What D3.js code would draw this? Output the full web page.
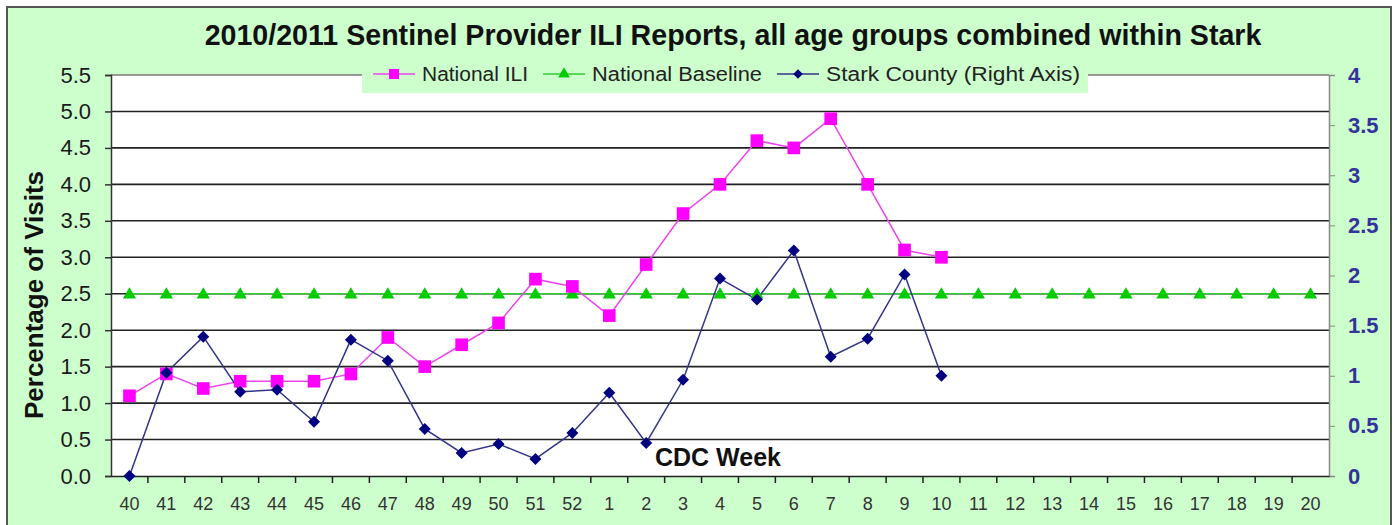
<!DOCTYPE html>
<html>
<head>
<meta charset="utf-8">
<script src="https://cdn.jsdelivr.net/npm/d3@7"></script>
<style>
  body { margin: 0; background: #fff; }
  text { font-family: "Liberation Sans", Arial, sans-serif; }
</style>
</head>
<body>
<div id="chart"></div>
<script>
// CDC weeks
const weeks = ["40","41","42","43","44","45","46","47","48","49","50","51","52",
  "1","2","3","4","5","6","7","8","9","10","11","12","13","14","15","16","17","18","19","20"];

// National ILI (left axis), weeks 40..10
const nationalILI = [1.1, 1.4, 1.2, 1.3, 1.3, 1.3, 1.4, 1.9, 1.5, 1.8, 2.1, 2.7, 2.6,
  2.2, 2.9, 3.6, 4.0, 4.6, 4.5, 4.9, 4.0, 3.1, 3.0];

// National baseline (left axis), all weeks
const nationalBaseline = [2.5, 2.5, 2.5, 2.5, 2.5, 2.5, 2.5, 2.5, 2.5, 2.5, 2.5, 2.5, 2.5,
  2.5, 2.5, 2.5, 2.5, 2.5, 2.5, 2.5, 2.5, 2.5, 2.5, 2.5, 2.5, 2.5, 2.5, 2.5, 2.5, 2.5, 2.5, 2.5, 2.5];

// Stark County (right axis), weeks 40..10
const starkCounty = [0, 1.03, 1.39, 0.84, 0.86, 0.54, 1.36, 1.15, 0.47, 0.23, 0.32, 0.17, 0.43,
  0.83, 0.33, 0.96, 1.97, 1.76, 2.25, 1.19, 1.37, 2.01, 1.0];

const leftTicks = [0, 0.5, 1, 1.5, 2, 2.5, 3, 3.5, 4, 4.5, 5, 5.5];
const rightTicks = [0, 0.5, 1, 1.5, 2, 2.5, 3, 3.5, 4];

const W = 1397, H = 525;
const margin = { top: 75, right: 68, bottom: 49, left: 111 },
    width = W - margin.left - margin.right,
    height = H - margin.top - margin.bottom;

const svg = d3.select("#chart")
  .append("svg")
    .attr("width", W)
    .attr("height", H);

// chart background + border
svg.append("rect")
  .attr("x", 7).attr("y", 7)
  .attr("width", 1384).attr("height", 530)
  .attr("fill", "#ccffcc")
  .attr("stroke", "#555")
  .attr("stroke-width", 2);

// title
svg.append("text")
  .attr("x", 733).attr("y", 45)
  .attr("text-anchor", "middle")
  .style("font-size", "28.6px")
  .style("font-weight", "bold")
  .attr("fill", "#111")
  .text("2010/2011 Sentinel Provider ILI Reports, all age groups combined within Stark");

const g = svg.append("g")
    .attr("transform", `translate(${margin.left},${margin.top})`);

// plot area
g.append("rect")
  .attr("width", width).attr("height", height)
  .attr("fill", "#fff");

const x = d3.scaleBand()
  .domain(weeks)
  .range([0, width]);

const y = d3.scaleLinear()
  .domain([0, 5.5])
  .range([height, 0]);

const y2 = d3.scaleLinear()
  .domain([0, 4])
  .range([height, 0]);

// gridlines
g.append("g")
  .selectAll("line")
  .data(leftTicks.filter(d => d > 0))
  .join("line")
    .attr("x1", 0).attr("x2", width)
    .attr("y1", d => y(d)).attr("y2", d => y(d))
    .attr("stroke", d => d === 5.5 ? "#777" : "#222")
    .attr("stroke-width", d => d === 5.5 ? 1.5 : 1.6);

// left axis
const yAxis = g.append("g")
  .call(d3.axisLeft(y).tickValues(leftTicks).tickFormat(d3.format(".1f")).tickSize(6).tickPadding(14));
yAxis.select(".domain").attr("stroke", "#333").attr("stroke-width", 1.5);
yAxis.selectAll(".tick line").attr("stroke", "#333").attr("stroke-width", 1.5);
yAxis.selectAll("text")
  .style("font-size", "22px")
  .attr("fill", "#1a1a1a");

// right axis
const y2Axis = g.append("g")
  .attr("transform", `translate(${width},0)`)
  .call(d3.axisRight(y2).tickValues(rightTicks).tickFormat(d => d).tickSize(6).tickPadding(13));
y2Axis.select(".domain").attr("stroke", "#888").attr("stroke-width", 1.5);
y2Axis.selectAll(".tick line").attr("stroke", "#888");
y2Axis.selectAll("text")
  .style("font-size", "22px")
  .style("font-weight", "bold")
  .attr("fill", "#333399");

// bottom axis (ticks on band boundaries)
const xAxis = g.append("g")
  .attr("transform", `translate(0,${height})`)
  .call(d3.axisBottom(x).tickSize(0).tickPadding(21));
xAxis.select(".domain").attr("stroke", "#222").attr("stroke-width", 1.6);
xAxis.selectAll("text")
  .style("font-size", "18px")
  .attr("fill", "#333");
g.append("g")
  .attr("transform", `translate(0,${height})`)
  .selectAll("line")
  .data(weeks.slice(1))
  .join("line")
    .attr("x1", d => x(d)).attr("x2", d => x(d))
    .attr("y1", 0).attr("y2", 7)
    .attr("stroke", "#222").attr("stroke-width", 1.5);

// axis titles
svg.append("text")
  .attr("transform", `translate(43,295) rotate(-90)`)
  .attr("text-anchor", "middle")
  .style("font-size", "26px")
  .style("font-weight", "bold")
  .attr("fill", "#111")
  .text("Percentage of Visits");

g.append("text")
  .attr("x", 607)
  .attr("y", height - 10)
  .attr("text-anchor", "middle")
  .style("font-size", "25px")
  .style("font-weight", "bold")
  .attr("fill", "#111")
  .text("CDC Week");

const cx = d => x(d) + x.bandwidth() / 2;

// series lines
const lineL = d3.line().x((d, i) => cx(weeks[i])).y(d => y(d));
const lineR = d3.line().x((d, i) => cx(weeks[i])).y(d => y2(d));

g.append("path").datum(nationalBaseline)
  .attr("d", lineL).attr("fill", "none")
  .attr("stroke", "#33cc33").attr("stroke-width", 1.5);

g.append("path").datum(nationalILI)
  .attr("d", lineL).attr("fill", "none")
  .attr("stroke", "#ee44ee").attr("stroke-width", 1.5);

g.append("path").datum(starkCounty)
  .attr("d", lineR).attr("fill", "none")
  .attr("stroke", "#333388").attr("stroke-width", 1.5);

// markers
const tri = d3.symbol().type(d3.symbolTriangle).size(75);
const sq = d3.symbol().type(d3.symbolSquare).size(160);
const dia = d3.symbol().type(d3.symbolSquare).size(72);

g.selectAll(".base")
  .data(nationalBaseline)
  .join("path")
    .attr("transform", (d, i) => `translate(${cx(weeks[i])},${y(d) + 1})`)
    .attr("d", tri)
    .attr("fill", "#00cc00");

g.selectAll(".ili")
  .data(nationalILI)
  .join("path")
    .attr("transform", (d, i) => `translate(${cx(weeks[i])},${y(d)})`)
    .attr("d", sq)
    .attr("fill", "#ff00ff");

g.selectAll(".stark")
  .data(starkCounty)
  .join("path")
    .attr("transform", (d, i) => `translate(${cx(weeks[i])},${y2(d)}) rotate(45)`)
    .attr("d", dia)
    .attr("fill", "#000080");

// legend
const legend = svg.append("g");
legend.append("rect")
  .attr("x", 362).attr("y", 61)
  .attr("width", 726).attr("height", 32)
  .attr("fill", "#ccffcc");

const legendItems = [
  { name: "National ILI", color: "#ee44ee", fill: "#ff00ff", sym: d3.symbol().type(d3.symbolSquare).size(100), rot: 0, x: 373, w: 106 },
  { name: "National Baseline", color: "#33cc33", fill: "#00cc00", sym: d3.symbol().type(d3.symbolTriangle).size(60), rot: 0, x: 543, w: 170 },
  { name: "Stark County (Right Axis)", color: "#333388", fill: "#000080", sym: d3.symbol().type(d3.symbolSquare).size(45), rot: 45, x: 777, w: 254 }
];
const li = legend.selectAll(".li")
  .data(legendItems)
  .join("g")
    .attr("transform", d => `translate(${d.x},74)`);
li.append("line")
  .attr("x1", 0).attr("x2", 42)
  .attr("stroke", d => d.color).attr("stroke-width", 1.5);
li.append("path")
  .attr("transform", d => `translate(21,0) rotate(${d.rot})`)
  .attr("d", d => d.sym())
  .attr("fill", d => d.fill);
li.append("text")
  .attr("x", 49).attr("y", 7)
  .style("font-size", "20px")
  .attr("textLength", d => d.w)
  .attr("lengthAdjust", "spacingAndGlyphs")
  .attr("fill", "#222")
  .text(d => d.name);
</script>
</body>
</html>
